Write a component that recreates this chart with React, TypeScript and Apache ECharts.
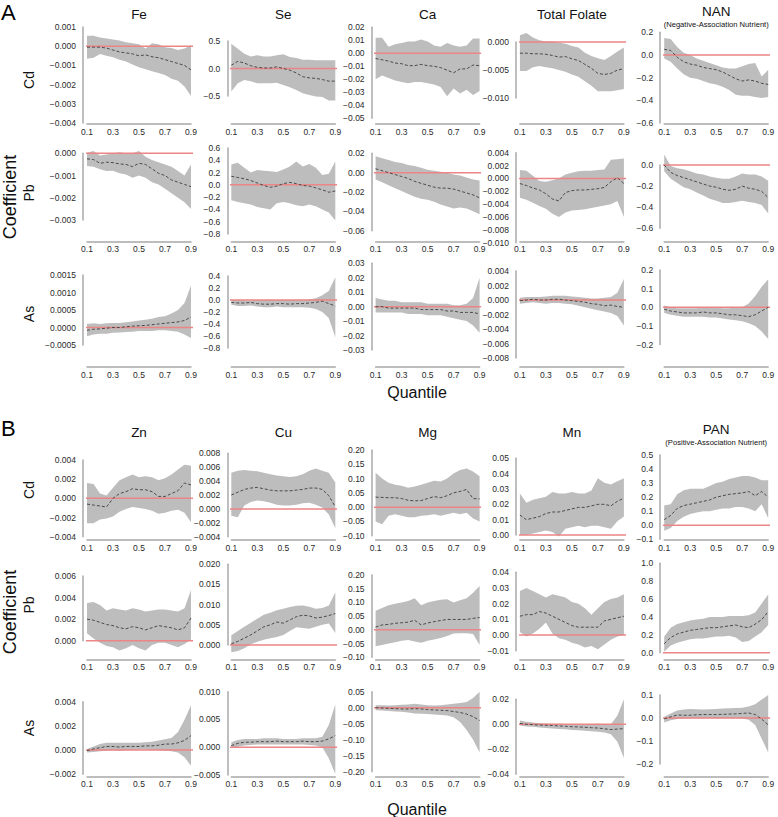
import { useEffect, useRef } from "react";
import * as echarts from "echarts";

// ---------------- DATA ----------------
const QUANTILES = [0.1, 0.15, 0.2, 0.25, 0.3, 0.35, 0.4, 0.45, 0.5, 0.55, 0.6, 0.65, 0.7, 0.75, 0.8, 0.85, 0.9];

const NUTRIENTS_A = ["Fe", "Se", "Ca", "Total Folate", "NAN"];
const NUTRIENTS_B = ["Zn", "Cu", "Mg", "Mn", "PAN"];
const METALS = ["Cd", "Pb", "As"];
const SUBTITLE_A = "(Negative-Association Nutrient)";
const SUBTITLE_B = "(Positive-Association Nutrient)";
const SECTION_LABELS = ["A", "B"];
const X_LABEL = "Quantile";
const Y_LABEL = "Coefficient";

// y tick specs: [min, max, step, decimals]
const TICKS_A = [
  [[-0.004, 0.001, 0.001, 3], [-0.5, 0.5, 0.5, 1], [-0.05, 0.02, 0.01, 2], [-0.01, 0, 0.005, 3], [-0.6, 0.2, 0.2, 1]],
  [[-0.003, 0, 0.001, 3], [-0.8, 0.6, 0.2, 1], [-0.06, 0.02, 0.02, 2], [-0.01, 0.004, 0.002, 3], [-0.6, 0, 0.2, 1]],
  [[-0.0005, 0.0015, 0.0005, 4], [-0.8, 0.4, 0.2, 1], [-0.03, 0.03, 0.01, 2], [-0.008, 0.004, 0.002, 3], [-0.2, 0.2, 0.1, 1]],
];
const TICKS_B = [
  [[-0.004, 0.004, 0.002, 3], [-0.004, 0.008, 0.002, 3], [-0.1, 0.2, 0.05, 2], [0, 0.05, 0.01, 2], [-0.1, 0.5, 0.1, 1]],
  [[0, 0.006, 0.002, 3], [0, 0.02, 0.005, 3], [-0.1, 0.2, 0.05, 2], [-0.01, 0.04, 0.01, 2], [0, 1, 0.2, 1]],
  [[-0.002, 0.004, 0.002, 3], [-0.005, 0.01, 0.005, 3], [-0.2, 0.05, 0.05, 2], [-0.04, 0.02, 0.02, 2], [-0.2, 0.1, 0.1, 1]],
];

// ---- Section A, Cd row
const A_CD_FE = {
  up: [0.00055, 0.00055, 0.00045, 0.0004, 0.00035, 0.0003, 0.0002, 0.00015, 0.0001, -0.00012, 0.00015, 0.0001, -0.00005, -0.0001, -0.0002, -0.00012, 0.00005],
  mid: [-0.00005, -0.00005, -0.00005, -0.0001, -0.0002, -0.0003, -0.00035, -0.0004, -0.0005, -0.00045, -0.00055, -0.0006, -0.0007, -0.0008, -0.0009, -0.001, -0.00123],
  lo: [-0.00065, -0.0006, -0.0004, -0.0005, -0.00057, -0.0007, -0.0008, -0.00095, -0.0011, -0.0012, -0.0013, -0.0014, -0.0015, -0.0017, -0.0018, -0.0021, -0.0026],
};
const A_CD_SE = {
  up: [0.45, 0.36, 0.27, 0.22, 0.24, 0.22, 0.22, 0.24, 0.26, 0.21, 0.19, 0.16, 0.16, 0.15, 0.15, 0.15, 0.15],
  mid: [0.06, 0.13, 0.1, 0.05, 0.02, 0.01, 0.01, 0.03, 0.0, -0.03, -0.08, -0.15, -0.17, -0.18, -0.2, -0.23, -0.23],
  lo: [-0.42, -0.27, -0.21, -0.23, -0.27, -0.27, -0.27, -0.26, -0.3, -0.34, -0.39, -0.45, -0.48, -0.51, -0.52, -0.58, -0.58],
};
const A_CD_CA = {
  up: [0.012, 0.012, 0.005, 0.007, 0.008, 0.009, 0.009, 0.0106, 0.009, 0.006, 0.005, 0.008, 0.006, 0.005, 0.006, 0.0114, 0.0114],
  mid: [-0.004, -0.005, -0.006, -0.0075, -0.008, -0.0095, -0.0095, -0.0085, -0.0095, -0.01, -0.011, -0.013, -0.015, -0.012, -0.012, -0.009, -0.0095],
  lo: [-0.02, -0.017, -0.019, -0.021, -0.022, -0.023, -0.022, -0.022, -0.023, -0.024, -0.026, -0.033, -0.027, -0.031, -0.028, -0.032, -0.029],
};
const A_CD_TF = {
  up: [0.0012, 0.0016, 0.0008, 0.0003, 0.0001, 0.0001, -0.0001, -0.0003, -0.0007, -0.001, -0.0019, -0.0025, -0.0029, -0.0032, -0.0025, -0.0017, -0.001],
  mid: [-0.002, -0.002, -0.0021, -0.0021, -0.0022, -0.0024, -0.0027, -0.0026, -0.003, -0.0033, -0.004, -0.0047, -0.0056, -0.0058, -0.0056, -0.005, -0.0048],
  lo: [-0.0052, -0.0052, -0.0045, -0.0043, -0.0045, -0.0047, -0.005, -0.0053, -0.0058, -0.0062, -0.007, -0.0078, -0.0088, -0.0088, -0.0088, -0.0086, -0.0084],
};
const A_CD_NAN = {
  up: [0.15, 0.14, 0.07, 0.02, 0.0, -0.03, -0.05, -0.07, -0.09, -0.11, -0.12, -0.12, -0.1, -0.08, -0.07, -0.19, -0.13],
  mid: [0.05, 0.04, -0.02, -0.06, -0.08, -0.09, -0.11, -0.12, -0.13, -0.15, -0.18, -0.21, -0.23, -0.22, -0.23, -0.25, -0.26],
  lo: [-0.03, -0.06, -0.12, -0.17, -0.2, -0.21, -0.23, -0.25, -0.26, -0.28, -0.31, -0.35, -0.36, -0.36, -0.37, -0.38, -0.37],
};
// ---- Section A, Pb row
const A_PB_FE = {
  up: [0.00003, 0.0001, -0.0001, -0.00005, 0.0, 0.00005, 0.0, 0.0, 0.0001, -0.00015, -0.0003, -0.0004, -0.0005, -0.0006, -0.0008, -0.001, -0.0005],
  mid: [-0.00025, -0.00028, -0.00045, -0.0004, -0.00042, -0.00048, -0.0005, -0.0006, -0.00045, -0.0005, -0.0007, -0.0009, -0.001, -0.0012, -0.0013, -0.0014, -0.0015],
  lo: [-0.00057, -0.0006, -0.00072, -0.0008, -0.00078, -0.0009, -0.00095, -0.0011, -0.001, -0.0011, -0.0013, -0.0014, -0.0016, -0.0018, -0.002, -0.0022, -0.0025],
};
const A_PB_SE = {
  up: [0.33, 0.36, 0.28, 0.2, 0.24, 0.23, 0.22, 0.21, 0.25, 0.3, 0.38, 0.3, 0.34, 0.28, 0.16, 0.18, 0.38],
  mid: [0.14, 0.12, 0.1, 0.07, 0.03, -0.01, -0.04, -0.02, 0.02, 0.04, 0.02, -0.01, -0.02, -0.05, -0.08, -0.12, -0.1],
  lo: [-0.25, -0.28, -0.3, -0.32, -0.36, -0.38, -0.4, -0.3, -0.28, -0.3, -0.33, -0.35, -0.32, -0.35, -0.4, -0.45, -0.58],
};
const A_PB_CA = {
  up: [0.017, 0.015, 0.013, 0.011, 0.01, 0.008, 0.007, 0.005, 0.003, 0.002, 0.001, 0.0, -0.002, -0.003, -0.005, -0.007, -0.008],
  mid: [0.004, 0.002, 0.0, -0.002, -0.004, -0.006, -0.009, -0.011, -0.013, -0.015, -0.016, -0.016, -0.017, -0.019, -0.021, -0.023, -0.026],
  lo: [-0.007, -0.01, -0.013, -0.016, -0.019, -0.022, -0.025, -0.027, -0.028, -0.03, -0.033, -0.035, -0.037, -0.036, -0.037, -0.04, -0.043],
};
const A_PB_TF = {
  up: [0.0013, 0.0012, 0.0004, -0.0004, -0.0005, -0.0003, 0.0, 0.0006, 0.0009, 0.0011, 0.0012, 0.0012, 0.0013, 0.0014, 0.0029, 0.003, 0.0031],
  mid: [-0.0008, -0.0011, -0.0015, -0.0018, -0.0024, -0.0032, -0.0035, -0.0022, -0.0019, -0.0018, -0.0018, -0.0017, -0.0016, -0.0014, -0.0005, 0.0001, -0.0008],
  lo: [-0.003, -0.0033, -0.0038, -0.0043, -0.0047, -0.0055, -0.006, -0.0053, -0.005, -0.0049, -0.0048, -0.0046, -0.0044, -0.0042, -0.004, -0.0035, -0.006],
};
const A_PB_NAN = {
  up: [0.1, -0.01, -0.03, -0.04, -0.06, -0.08, -0.09, -0.11, -0.12, -0.13, -0.13, -0.11, -0.08, -0.09, -0.09, -0.11, -0.15],
  mid: [0.0, -0.07, -0.1, -0.12, -0.14, -0.16, -0.18, -0.2, -0.21, -0.23, -0.24, -0.23, -0.2, -0.22, -0.23, -0.25, -0.31],
  lo: [-0.06, -0.13, -0.17, -0.21, -0.23, -0.26, -0.29, -0.32, -0.34, -0.36, -0.36, -0.35, -0.34, -0.35, -0.36, -0.38, -0.46],
};
// ---- Section A, As row
const A_AS_FE = {
  up: [0.0001, 0.00012, 0.0001, 0.00012, 0.00013, 0.00013, 0.00015, 0.00017, 0.0002, 0.00022, 0.00025, 0.0003, 0.00032, 0.0004, 0.0005, 0.0007, 0.0012],
  mid: [-0.00008, -0.00005, -0.00004, -0.00002, 0.0, 0.0, 0.00002, 0.00004, 0.00005, 0.00006, 0.00008, 0.0001, 0.00012, 0.00014, 0.00016, 0.0002, 0.0003],
  lo: [-0.00025, -0.0002, -0.00018, -0.00018, -0.00015, -0.00014, -0.00013, -0.00012, -0.0001, -0.0001, -0.0001, -0.00008, -0.00008, -0.0001, -0.00012, -0.0002, -0.0003],
};
const A_AS_SE = {
  up: [0.0, 0.0, -0.01, -0.01, 0.0, 0.0, 0.0, 0.0, 0.0, 0.0, 0.0, 0.0, 0.01, 0.03, 0.08, 0.15, 0.38],
  mid: [-0.04, -0.05, -0.05, -0.04, -0.06, -0.07, -0.07, -0.06, -0.06, -0.07, -0.06, -0.06, -0.05, -0.04, -0.02, -0.06, -0.1],
  lo: [-0.08, -0.1, -0.1, -0.09, -0.11, -0.12, -0.12, -0.11, -0.12, -0.12, -0.12, -0.12, -0.13, -0.15, -0.2, -0.3, -0.62],
};
const A_AS_CA = {
  up: [0.006, 0.005, 0.004, 0.004, 0.003, 0.003, 0.003, 0.003, 0.002, 0.002, 0.002, 0.002, 0.001, 0.001, 0.002, 0.006, 0.02],
  mid: [0.0, 0.0, -0.001, -0.001, -0.001, -0.001, -0.001, -0.002, -0.002, -0.002, -0.002, -0.003, -0.003, -0.004, -0.004, -0.004, -0.005],
  lo: [-0.004, -0.004, -0.004, -0.004, -0.004, -0.005, -0.005, -0.005, -0.006, -0.006, -0.006, -0.007, -0.008, -0.009, -0.01, -0.013, -0.018],
};
const A_AS_TF = {
  up: [0.0003, 0.0004, 0.0004, 0.0004, 0.0005, 0.0006, 0.0006, 0.0006, 0.0005, 0.0004, 0.0003, 0.0002, 0.0002, 0.0003, 0.0004, 0.001, 0.0029],
  mid: [-0.0001, 0.0, 0.0001, 0.0, 0.0, 0.0001, 0.0001, 0.0, -0.0001, -0.0002, -0.0003, -0.0005, -0.0006, -0.0008, -0.0007, -0.0009, -0.001],
  lo: [-0.0005, -0.0004, -0.0003, -0.0004, -0.0005, -0.0004, -0.0004, -0.0005, -0.0006, -0.0008, -0.001, -0.0012, -0.0014, -0.0016, -0.0018, -0.0022, -0.0035],
};
const A_AS_NAN = {
  up: [0.01, 0.0, -0.005, -0.005, -0.005, -0.005, 0.0, 0.0, 0.0, -0.005, -0.005, 0.0, 0.0, 0.02, 0.06, 0.11, 0.15],
  mid: [-0.01, -0.02, -0.025, -0.03, -0.03, -0.03, -0.025, -0.03, -0.03, -0.035, -0.04, -0.04, -0.045, -0.05, -0.04, -0.02, 0.0],
  lo: [-0.03, -0.04, -0.045, -0.05, -0.05, -0.05, -0.05, -0.055, -0.055, -0.06, -0.065, -0.07, -0.075, -0.085, -0.1, -0.13, -0.17],
};
// ---- Section B, Cd row
const B_CD_ZN = {
  up: [0.0016, 0.0015, 0.0005, 0.0003, 0.0011, 0.0019, 0.0022, 0.0025, 0.0022, 0.0023, 0.0022, 0.0019, 0.0021, 0.0025, 0.003, 0.0035, 0.0034],
  mid: [-0.0006, -0.0007, -0.0008, -0.0009, 0.0, 0.0005, 0.0007, 0.001, 0.0009, 0.0009, 0.0007, 0.0002, 0.0002, 0.0005, 0.0008, 0.0016, 0.0014],
  lo: [-0.0026, -0.0026, -0.0022, -0.0021, -0.0019, -0.0014, -0.0011, -0.0009, -0.001, -0.0011, -0.0013, -0.0016, -0.0015, -0.0013, -0.0012, -0.0015, -0.0025],
};
const B_CD_CU = {
  up: [0.0052, 0.0055, 0.0056, 0.0055, 0.0054, 0.0052, 0.005, 0.0048, 0.0047, 0.0046, 0.0047, 0.005, 0.0055, 0.0058, 0.0055, 0.0052, 0.0038],
  mid: [0.002, 0.0024, 0.0028, 0.003, 0.0031, 0.0029, 0.0027, 0.0026, 0.0026, 0.0026, 0.0027, 0.0028, 0.003, 0.003, 0.0028, 0.0019, 0.0003],
  lo: [-0.001, -0.0012, 0.0005, 0.001, 0.0012, 0.0011, 0.0009, 0.0006, 0.0005, 0.0005, 0.0006, 0.0008, 0.0009, 0.0006, 0.0002, -0.0008, -0.0028],
};
const B_CD_MG = {
  up: [0.12, 0.1, 0.085, 0.078, 0.075, 0.068, 0.072, 0.078, 0.085, 0.092, 0.09, 0.1, 0.118, 0.13, 0.135, 0.125, 0.108],
  mid: [0.035, 0.034, 0.033, 0.033, 0.03, 0.024, 0.022, 0.023, 0.03, 0.037, 0.033, 0.04, 0.05, 0.055, 0.062, 0.03, 0.029],
  lo: [-0.05, -0.06, -0.03, -0.025, -0.03, -0.035, -0.035, -0.03, -0.028, -0.025, -0.03, -0.025, -0.02, -0.025, -0.02, -0.04, -0.05],
};
const B_CD_MN = {
  up: [0.027, 0.021, 0.023, 0.024, 0.025, 0.028, 0.027, 0.027, 0.028, 0.027, 0.027, 0.029, 0.037, 0.034, 0.033, 0.035, 0.037],
  mid: [0.013, 0.01, 0.011, 0.012, 0.014, 0.015, 0.015, 0.016, 0.017, 0.018, 0.018, 0.019, 0.02, 0.02, 0.019, 0.022, 0.024],
  lo: [0.0, 0.0, 0.001, 0.002, 0.003, 0.002, -0.001, 0.004, 0.005, 0.006, 0.005, 0.006, 0.006, 0.005, 0.004, 0.009, 0.012],
};
const B_CD_PAN = {
  up: [0.14, 0.15, 0.22, 0.25, 0.26, 0.26, 0.26, 0.28, 0.3, 0.31, 0.33, 0.34, 0.35, 0.35, 0.34, 0.32, 0.32],
  mid: [0.04, 0.07, 0.12, 0.14, 0.15, 0.16, 0.17, 0.18, 0.2, 0.21, 0.22, 0.225, 0.23, 0.24, 0.21, 0.24, 0.2],
  lo: [-0.04, -0.02, 0.03, 0.06, 0.08, 0.09, 0.1, 0.1, 0.11, 0.12, 0.12, 0.13, 0.13, 0.12, 0.1, 0.15, 0.05],
};
// ---- Section B, Pb row
const B_PB_ZN = {
  up: [0.0035, 0.0036, 0.0033, 0.0028, 0.003, 0.0029, 0.0028, 0.003, 0.0029, 0.0027, 0.0028, 0.0029, 0.0029, 0.0028, 0.0027, 0.003, 0.0047],
  mid: [0.002, 0.0019, 0.0017, 0.0015, 0.0014, 0.0012, 0.0011, 0.0013, 0.0012, 0.001, 0.0012, 0.0014, 0.0013, 0.0012, 0.001, 0.0012, 0.0021],
  lo: [0.0007, 0.0002, -0.0002, -0.0005, -0.0006, -0.0009, -0.0007, -0.0004, -0.0007, -0.0009, -0.0004, -0.0002, -0.0002, -0.0004, -0.0006, -0.0003, 0.0001],
};
const B_PB_CU = {
  up: [0.0024, 0.0035, 0.0045, 0.0055, 0.0065, 0.0075, 0.008, 0.0086, 0.009, 0.0094, 0.0097, 0.0098, 0.0095, 0.009, 0.0092, 0.0098, 0.013],
  mid: [0.0003, 0.0009, 0.0017, 0.0025, 0.0035, 0.0045, 0.005, 0.0057, 0.0054, 0.0062, 0.007, 0.0074, 0.0072, 0.0067, 0.0069, 0.0073, 0.0078],
  lo: [-0.0018, -0.0015, -0.0008, 0.0002, 0.0008, 0.0013, 0.0017, 0.002, 0.0025, 0.0035, 0.0044, 0.0042, 0.004, 0.0045, 0.005, 0.0053, 0.003],
};
const B_PB_MG = {
  up: [0.07, 0.08, 0.09, 0.095, 0.1, 0.105, 0.115, 0.09, 0.1, 0.105, 0.11, 0.112, 0.1, 0.108, 0.115, 0.135, 0.16],
  mid: [0.01, 0.018, 0.02, 0.024, 0.026, 0.028, 0.035, 0.018, 0.025, 0.03, 0.034, 0.038, 0.038, 0.038, 0.038, 0.042, 0.045],
  lo: [-0.06, -0.055, -0.05, -0.045, -0.04, -0.037, -0.042, -0.047, -0.04, -0.035, -0.03, -0.022, -0.013, -0.012, -0.012, -0.015, -0.055],
};
const B_PB_MN = {
  up: [0.028, 0.03, 0.028, 0.026, 0.024, 0.026, 0.025, 0.024, 0.021, 0.02, 0.017, 0.013, 0.017, 0.021, 0.023, 0.024, 0.026],
  mid: [0.012, 0.013, 0.013, 0.015, 0.014, 0.012, 0.01, 0.008, 0.006, 0.005, 0.005, 0.005, 0.005, 0.009, 0.01, 0.011, 0.012],
  lo: [0.002, -0.001, 0.001, 0.004, 0.008, 0.001, -0.002, -0.003, -0.005, -0.006, -0.008, -0.007, -0.009, -0.006, -0.003, -0.001, 0.0],
};
const B_PB_PAN = {
  up: [0.18, 0.28, 0.32, 0.34, 0.36, 0.37, 0.38, 0.4, 0.4, 0.4, 0.41, 0.41, 0.41, 0.42, 0.45, 0.55, 0.65],
  mid: [0.1, 0.17, 0.21, 0.23, 0.25, 0.26, 0.27, 0.28, 0.28, 0.29, 0.3, 0.31, 0.29, 0.28, 0.32, 0.37, 0.46],
  lo: [0.01, 0.08, 0.11, 0.13, 0.15, 0.16, 0.16, 0.17, 0.18, 0.18, 0.19, 0.17, 0.12, 0.13, 0.18, 0.23, 0.31],
};
// ---- Section B, As row
const B_AS_ZN = {
  up: [0.0001, 0.0003, 0.0005, 0.0006, 0.0006, 0.0006, 0.0006, 0.0006, 0.0006, 0.00065, 0.0007, 0.0008, 0.0009, 0.001, 0.0015, 0.0025, 0.0037],
  mid: [-0.00005, 0.0001, 0.0002, 0.0003, 0.0003, 0.00025, 0.0003, 0.0003, 0.0003, 0.00035, 0.00035, 0.0004, 0.0005, 0.0005, 0.0006, 0.0008, 0.0012],
  lo: [-0.0002, -0.00015, -0.0001, -0.00005, 0.0, -0.00005, 0.0, 0.0, 0.00005, 0.00005, 0.0, 0.0, -0.00005, -0.0001, -0.0002, -0.0006, -0.0013],
};
const B_AS_CU = {
  up: [0.0009, 0.0013, 0.0015, 0.0015, 0.0015, 0.0016, 0.0016, 0.0016, 0.0015, 0.0015, 0.0015, 0.0016, 0.0016, 0.0016, 0.0019, 0.004, 0.0077],
  mid: [0.0003, 0.0007, 0.0009, 0.0009, 0.001, 0.001, 0.001, 0.0011, 0.001, 0.001, 0.001, 0.0011, 0.001, 0.001, 0.0011, 0.0015, 0.0021],
  lo: [-0.0002, 0.0001, 0.0003, 0.0004, 0.0005, 0.0005, 0.0005, 0.0005, 0.0005, 0.0005, 0.0005, 0.0005, 0.0004, 0.0003, 0.0, -0.002, -0.0048],
};
const B_AS_MG = {
  up: [0.008, 0.008, 0.007, 0.008, 0.009, 0.01, 0.012, 0.01, 0.008, 0.007, 0.008, 0.01, 0.012, 0.015, 0.018, 0.03, 0.05],
  mid: [0.0, -0.001, -0.002, -0.003, -0.004, -0.004, -0.003, -0.004, -0.006, -0.007, -0.008, -0.009, -0.012, -0.015, -0.02, -0.028, -0.04],
  lo: [-0.008, -0.009, -0.01, -0.012, -0.013, -0.015, -0.018, -0.019, -0.02, -0.021, -0.023, -0.024, -0.03, -0.045, -0.07, -0.1, -0.14],
};
const B_AS_MN = {
  up: [0.003, 0.002, 0.0015, 0.0008, 0.0006, 0.0005, 0.0004, 0.0003, 0.0003, 0.0002, 0.0002, 0.0003, 0.0004, 0.0002, 0.0, 0.007, 0.02],
  mid: [0.0007, 0.0, -0.0003, -0.0006, -0.0008, -0.001, -0.0013, -0.0016, -0.0019, -0.0021, -0.0024, -0.0027, -0.003, -0.0036, -0.0042, -0.0038, -0.0035],
  lo: [-0.001, -0.0017, -0.002, -0.0025, -0.003, -0.0033, -0.0037, -0.004, -0.0045, -0.0048, -0.0051, -0.0055, -0.006, -0.0066, -0.008, -0.014, -0.027],
};
const B_AS_PAN = {
  up: [0.005, 0.02, 0.033, 0.037, 0.039, 0.038, 0.037, 0.038, 0.039, 0.041, 0.042, 0.043, 0.045, 0.05, 0.06, 0.08, 0.1],
  mid: [-0.004, 0.005, 0.013, 0.012, 0.012, 0.014, 0.015, 0.015, 0.015, 0.016, 0.017, 0.018, 0.02, 0.022, 0.015, -0.005, -0.03],
  lo: [-0.02, -0.01, -0.004, -0.002, -0.001, -0.001, 0.0, 0.0, -0.001, -0.001, -0.001, -0.001, -0.002, -0.008, -0.03, -0.09, -0.15],
};

const PANELS_A = [
  [A_CD_FE, A_CD_SE, A_CD_CA, A_CD_TF, A_CD_NAN],
  [A_PB_FE, A_PB_SE, A_PB_CA, A_PB_TF, A_PB_NAN],
  [A_AS_FE, A_AS_SE, A_AS_CA, A_AS_TF, A_AS_NAN],
];
const PANELS_B = [
  [B_CD_ZN, B_CD_CU, B_CD_MG, B_CD_MN, B_CD_PAN],
  [B_PB_ZN, B_PB_CU, B_PB_MG, B_PB_MN, B_PB_PAN],
  [B_AS_ZN, B_AS_CU, B_AS_MG, B_AS_MN, B_AS_PAN],
];

// ---------------- LAYOUT (pixels) ----------------
const W = 778;
const H = 817;
const COL_LEFT = 87;
const COL_STEP = 144.3;
const PLOT_W = 104;
const YAXIS_OFFSET = 4;
// pixel rows of the top and bottom y tick in each panel
const TICK_PX = [
  [
    [[27, 123], [41, 96], [27.3, 118.3], [42, 98], [32.3, 123]],
    [[153.3, 220], [148, 234], [153.3, 230.7], [152.7, 242.7], [165, 228.3]],
    [[275, 345], [276, 348], [263.3, 350], [271, 358], [270, 344.6]],
  ],
  [
    [[460, 536.7], [453.3, 536.7], [450, 535.7], [458.3, 535], [455, 539.3]],
    [[576, 640.7], [564.3, 645], [575, 657.3], [572.3, 650.7], [563.3, 652.7]],
    [[701.7, 774.3], [691.7, 775], [691.7, 771.7], [699.3, 774.3], [695, 764]],
  ],
];
const X_LINE_Y = [[124, 241.7, 367], [540, 659.3, 776.7]];
const TITLE_Y = [14, 432];
const LAST_TITLE_Y = [11.5, 429.5];
const SUBTITLE_Y = [24.5, 442];
const ROW_LABEL_Y = [[80, 193, 314], [490, 605, 728]];
const COEF_Y = [197, 612];
const QUANT_Y = [392, 809];
const SECTION_LABEL_Y = [12, 428];

const FONT = "'Liberation Sans', Arial, Helvetica, sans-serif";
const BAND = "#bdbdbd";
const MID = "#4a4a4a";
const ZERO = "#ec8585";
const AXIS = "#a8a8a8";
const TXT = "#2a2a2a";

const fmtTick = (dec: number) => (v: number) => {
  const r = Math.abs(v) < 1e-12 ? 0 : v;
  const s = r.toFixed(dec);
  return s.charAt(0) === "-" ? "\u2212" + s.slice(1) : s;
};

const centered = { align: "center", verticalAlign: "middle", textAlign: "center", textVerticalAlign: "middle" };

function buildOption() {
  const grids: any[] = [];
  const xAxes: any[] = [];
  const yAxes: any[] = [];
  const series: any[] = [];
  const graphics: any[] = [];
  const sections = [
    { cols: NUTRIENTS_A, panels: PANELS_A, ticks: TICKS_A, sub: SUBTITLE_A },
    { cols: NUTRIENTS_B, panels: PANELS_B, ticks: TICKS_B, sub: SUBTITLE_B },
  ];
  let idx = 0;
  sections.forEach((sec, s) => {
    sec.panels.forEach((row, r) => {
      row.forEach((panel, c) => {
        const [tMin, tMax, step, dec] = sec.ticks[r][c];
        const [top, bottom] = TICK_PX[s][r][c];
        const left = COL_LEFT + c * COL_STEP;
        grids.push({ left, top, width: PLOT_W, height: bottom - top, containLabel: false });
        xAxes.push({
          gridIndex: idx,
          type: "value",
          min: 0.1,
          max: 0.9,
          interval: 0.2,
          position: "bottom",
          offset: X_LINE_Y[s][r] - bottom,
          axisLine: { show: true, onZero: false, lineStyle: { color: AXIS, width: 1.5 } },
          axisTick: { show: false },
          splitLine: { show: false },
          axisLabel: {
            formatter: (v: number) => v.toFixed(1),
            fontSize: 8.5,
            color: TXT,
            fontFamily: FONT,
            margin: 3,
          },
        });
        yAxes.push({
          gridIndex: idx,
          type: "value",
          min: tMin,
          max: tMax,
          interval: step,
          offset: YAXIS_OFFSET,
          axisLine: { show: true, onZero: false, lineStyle: { color: AXIS, width: 1.5 } },
          axisTick: { show: false },
          splitLine: { show: false },
          axisLabel: { formatter: fmtTick(dec), fontSize: 8.5, color: TXT, fontFamily: FONT, margin: 7 },
        });
        const up = panel.up;
        const lo = panel.lo;
        series.push({
          type: "custom",
          xAxisIndex: idx,
          yAxisIndex: idx,
          clip: false,
          silent: true,
          z: 1,
          data: [[0.5, tMin]],
          renderItem: (_p: any, api: any) => {
            const pts: number[][] = [];
            for (let i = 0; i < QUANTILES.length; i++) pts.push(api.coord([QUANTILES[i], up[i]]));
            for (let i = QUANTILES.length - 1; i >= 0; i--) pts.push(api.coord([QUANTILES[i], lo[i]]));
            return { type: "polygon", shape: { points: pts }, style: { fill: BAND, stroke: null } };
          },
        });
        series.push({
          type: "line",
          xAxisIndex: idx,
          yAxisIndex: idx,
          clip: false,
          silent: true,
          z: 3,
          symbol: "none",
          data: [[0.07, 0], [0.92, 0]],
          lineStyle: { color: ZERO, width: 1.5 },
        });
        series.push({
          type: "line",
          xAxisIndex: idx,
          yAxisIndex: idx,
          clip: false,
          silent: true,
          z: 4,
          symbol: "none",
          data: QUANTILES.map((q, i) => [q, panel.mid[i]]),
          lineStyle: { color: MID, width: 1, type: [3, 2] },
        });
        idx++;
      });
    });

    // column titles
    sec.cols.forEach((name, c) => {
      const cx = COL_LEFT + c * COL_STEP + PLOT_W / 2;
      graphics.push({
        type: "text",
        x: cx,
        y: c === sec.cols.length - 1 ? LAST_TITLE_Y[s] : TITLE_Y[s],
        style: { text: name, fill: "#111", fontSize: 13.5, fontFamily: FONT, ...centered },
      });
    });
    {
      const cx = COL_LEFT + 4 * COL_STEP + PLOT_W / 2;
      graphics.push({
        type: "text",
        x: cx,
        y: SUBTITLE_Y[s],
        style: { text: sec.sub, fill: "#111", fontSize: 7.6, fontFamily: FONT, ...centered },
      });
    }
    METALS.forEach((m, r) => {
      graphics.push({
        type: "text",
        x: 29,
        y: ROW_LABEL_Y[s][r],
        rotation: Math.PI / 2,
        style: { text: m, fill: "#111", fontSize: 14, fontFamily: FONT, ...centered },
      });
    });
    graphics.push({
      type: "text",
      x: 10,
      y: COEF_Y[s],
      rotation: Math.PI / 2,
      style: { text: Y_LABEL, fill: "#111", fontSize: 18, fontFamily: FONT, ...centered },
    });
    graphics.push({
      type: "text",
      x: 417,
      y: QUANT_Y[s],
      style: { text: X_LABEL, fill: "#111", fontSize: 16, fontFamily: FONT, ...centered },
    });
    graphics.push({
      type: "text",
      x: 1,
      y: SECTION_LABEL_Y[s],
      style: { text: SECTION_LABELS[s], fill: "#000", fontSize: 22, fontFamily: FONT, align: "left", verticalAlign: "middle", textAlign: "left", textVerticalAlign: "middle" },
    });
  });

  return {
    animation: false,
    backgroundColor: "#ffffff",
    grid: grids,
    xAxis: xAxes,
    yAxis: yAxes,
    series,
    graphic: { elements: graphics },
  };
}

export default function App() {
  const ref = useRef<HTMLDivElement>(null);
  useEffect(() => {
    if (!ref.current) return;
    const chart = echarts.init(ref.current, undefined, { renderer: "svg" });
    chart.setOption(buildOption() as any);
    return () => chart.dispose();
  }, []);
  return (
    <div
      ref={ref}
      style={{ position: "fixed", left: 0, top: 0, width: W, height: H, background: "#fff" }}
    />
  );
}
